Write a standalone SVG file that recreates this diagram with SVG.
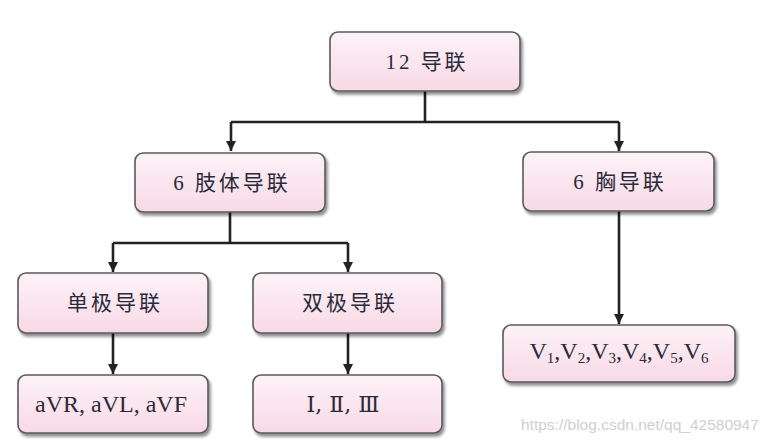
<svg xmlns="http://www.w3.org/2000/svg" width="773" height="445" viewBox="0 0 773 445">
<defs>
<linearGradient id="g" x1="0" y1="0" x2="0" y2="1">
<stop offset="0" stop-color="#fdf2f7"/>
<stop offset="1" stop-color="#f8d9e6"/>
</linearGradient>
<filter id="sh" x="-10%" y="-10%" width="125%" height="130%">
<feGaussianBlur in="SourceAlpha" stdDeviation="1.5"/>
<feOffset dx="2" dy="3" result="b"/>
<feComponentTransfer><feFuncA type="linear" slope="0.45"/></feComponentTransfer>
<feMerge><feMergeNode/><feMergeNode in="SourceGraphic"/></feMerge>
</filter>
<marker id="ar" viewBox="0 0 10 10" refX="10" refY="5" markerWidth="4" markerHeight="4" markerUnits="strokeWidth" orient="auto">
<path d="M0,0 L10,5 L0,10 Z" fill="#222"/>
</marker>
</defs>
<style>
.box{fill:url(#g);stroke:#5a5a5a;stroke-width:1.6;filter:url(#sh)}
.t{font-family:"Liberation Serif","Noto Sans CJK SC",serif;font-size:21px;fill:#2a2a3a;text-anchor:middle;dominant-baseline:central}
.cj{letter-spacing:3px}
.lat{font-size:24px}
.rn{font-family:"DejaVu Serif","Liberation Serif",serif;font-size:22px}
.c{fill:none;stroke:#222;stroke-width:2.6}
.wm{font-family:"Liberation Sans",Arial,sans-serif;font-size:15.5px;fill:#cfcfcf}
</style>
<rect width="773" height="445" fill="#ffffff"/>
<g id="connectors">
<path class="c" d="M425,91 V122"/>
<path class="c" d="M231,122 H619"/>
<path class="c" d="M231,122 V151" marker-end="url(#ar)"/>
<path class="c" d="M619,122 V151" marker-end="url(#ar)"/>
<path class="c" d="M230,212 V243"/>
<path class="c" d="M113,243 H348"/>
<path class="c" d="M113,243 V272" marker-end="url(#ar)"/>
<path class="c" d="M348,243 V272" marker-end="url(#ar)"/>
<path class="c" d="M113,333 V374" marker-end="url(#ar)"/>
<path class="c" d="M348,333 V374" marker-end="url(#ar)"/>
<path class="c" d="M619,211 V324" marker-end="url(#ar)"/>
</g>
<g id="n12">
<rect class="box" x="330" y="32" width="190" height="59" rx="8"/>
<text class="t cj" x="427" y="62">12 导联</text>
</g>
<g id="nlimb">
<rect class="box" x="135" y="153" width="190" height="59" rx="8"/>
<text class="t cj" x="232" y="183">6 肢体导联</text>
</g>
<g id="nchest">
<rect class="box" x="523" y="152" width="191" height="59" rx="8"/>
<text class="t cj" x="620" y="182">6 胸导联</text>
</g>
<g id="nuni">
<rect class="box" x="18" y="273" width="190" height="60" rx="8"/>
<text class="t cj" x="115" y="303">单极导联</text>
</g>
<g id="nbi">
<rect class="box" x="253" y="273" width="189" height="60" rx="8"/>
<text class="t cj" x="350" y="303">双极导联</text>
</g>
<g id="naug">
<rect class="box" x="18" y="375" width="190" height="58" rx="8"/>
<text class="t lat" x="111" y="404">aVR, aVL, aVF</text>
</g>
<g id="nstd">
<rect class="box" x="253" y="375" width="189" height="58" rx="8"/>
<text class="t rn" x="343" y="404">Ⅰ, Ⅱ, Ⅲ</text>
</g>
<g id="nv">
<rect class="box" x="503" y="325" width="232" height="57" rx="8"/>
<text class="t lat" x="619" y="351">V<tspan font-size="15" dy="7">1</tspan><tspan dy="-7">,V</tspan><tspan font-size="15" dy="7">2</tspan><tspan dy="-7">,V</tspan><tspan font-size="15" dy="7">3</tspan><tspan dy="-7">,V</tspan><tspan font-size="15" dy="7">4</tspan><tspan dy="-7">,V</tspan><tspan font-size="15" dy="7">5</tspan><tspan dy="-7">,V</tspan><tspan font-size="15" dy="7">6</tspan></text>
</g>
<text class="wm" x="521" y="430">https://blog.csdn.net/qq_42580947</text>
</svg>
